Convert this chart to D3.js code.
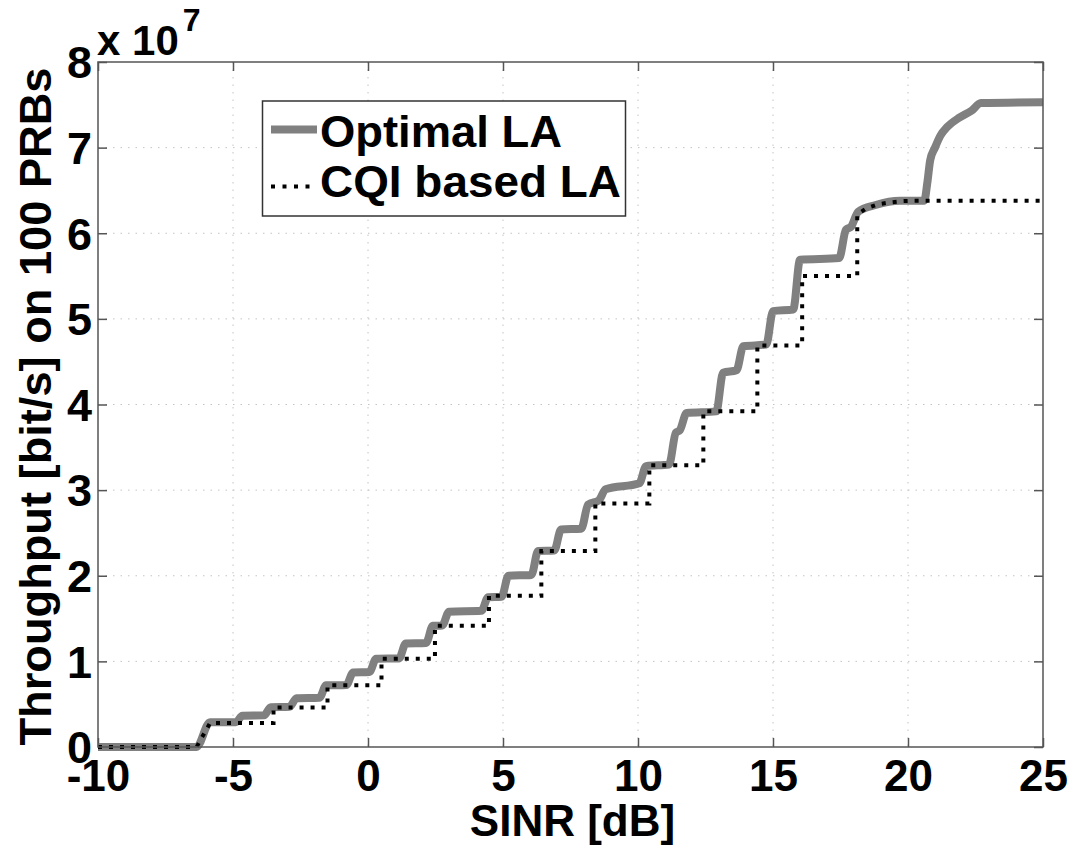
<!DOCTYPE html>
<html>
<head>
<meta charset="utf-8">
<script src="https://cdn.jsdelivr.net/npm/d3@7"></script>
<style>
  html, body { margin: 0; padding: 0; background: #fff; }
  svg { display: block; }
  text { font-family: "Liberation Sans", Arial, sans-serif; font-weight: bold; fill: #000; }
</style>
</head>
<body>
<svg id="chart" width="1072" height="846"></svg>
<script>
// ---- data (SINR in dB, throughput in units of 1e7 bit/s) ----
const xTicks = [-10, -5, 0, 5, 10, 15, 20, 25];
const yTicks = [0, 1, 2, 3, 4, 5, 6, 7, 8];
const seriesNames = ["Optimal LA", "CQI based LA"];

const optimalSINR = [-10, -6.35, -5.85, -4.9, -4.65, -3.85, -3.6, -2.9, -2.65, -1.8, -1.55, -0.8, -0.55, 0.05, 0.3,
  1.15, 1.4, 2.15, 2.4, 2.75, 3.0, 4.2, 4.45, 4.95, 5.2, 6.05, 6.3, 6.9, 7.15, 7.9, 8.15, 8.55, 8.8, 10.05, 10.3,
  11.15, 11.4, 11.55, 11.8, 12.9, 13.15, 13.65, 13.9, 14.75, 15.0, 15.75, 16.0, 17.45, 17.7, 17.9, 18.15, 18.8, 19.7,
  20.6, 20.72, 20.82, 21.0, 21.2, 21.45, 21.9, 22.35, 22.7, 25];
const optimalTput = [0, 0, 0.29, 0.29, 0.365, 0.37, 0.465, 0.47, 0.57, 0.575, 0.72, 0.725, 0.87, 0.875, 1.03,
  1.035, 1.21, 1.215, 1.415, 1.42, 1.58, 1.59, 1.75, 1.755, 2.0, 2.01, 2.29, 2.295, 2.54, 2.55, 2.83, 2.88, 3.01, 3.08, 3.28,
  3.3, 3.67, 3.7, 3.9, 3.92, 4.37, 4.4, 4.68, 4.7, 5.09, 5.11, 5.69, 5.71, 6.04, 6.08, 6.25, 6.33, 6.38,
  6.38, 6.6, 6.85, 7.0, 7.14, 7.24, 7.35, 7.43, 7.52, 7.53];

const cqiSINR = [-10, -6.35, -5.85, -3.5, -3.5, -1.5, -1.5, 0.5, 0.5, 2.48, 2.48, 4.48, 4.48, 6.42, 6.42, 8.42, 8.42,
  10.42, 10.42, 12.42, 12.42, 14.42, 14.42, 16.08, 16.08, 18.12, 18.12, 18.45, 18.9, 19.35, 19.8, 20.2, 25];
const cqiTput = [0, 0, 0.28, 0.28, 0.46, 0.46, 0.72, 0.72, 1.03, 1.03, 1.415, 1.415, 1.765, 1.765, 2.29, 2.29, 2.845,
  2.845, 3.29, 3.29, 3.92, 3.92, 4.69, 4.69, 5.50, 5.50, 6.22, 6.29, 6.34, 6.36, 6.375, 6.38, 6.38];

// ---- layout ----
const svg = d3.select("#chart");
const L = 98, R = 1043, T = 62, B = 747;
const x = d3.scaleLinear().domain([-10, 25]).range([L, R]);
const y = d3.scaleLinear().domain([0, 8]).range([B, T]);
const fmt = d => String(d); // plain hyphen minus as in the original

// grid
const grid = svg.append("g").attr("stroke", "#c4c4c4").attr("stroke-width", 1).attr("stroke-dasharray", "1.5,6");
grid.selectAll("line.v").data(xTicks.filter(d => d > -10 && d < 25)).enter().append("line")
  .attr("x1", d => x(d)).attr("x2", d => x(d)).attr("y1", T).attr("y2", B);
grid.selectAll("line.h").data(yTicks.filter(d => d > 0 && d < 8)).enter().append("line")
  .attr("y1", d => y(d)).attr("y2", d => y(d)).attr("x1", L).attr("x2", R);

// axes with inward ticks on all four sides
const tickLen = 9;
const axB = svg.append("g").attr("transform", `translate(0,${B})`)
  .call(d3.axisBottom(x).tickValues(xTicks).tickSize(-tickLen).tickPadding(14).tickFormat(fmt));
const axT = svg.append("g").attr("transform", `translate(0,${T})`)
  .call(d3.axisTop(x).tickValues(xTicks).tickSize(-tickLen).tickFormat(""));
const axL = svg.append("g").attr("transform", `translate(${L},0)`)
  .call(d3.axisLeft(y).tickValues(yTicks).tickSize(-tickLen).tickPadding(6).tickFormat(fmt));
const axR = svg.append("g").attr("transform", `translate(${R},0)`)
  .call(d3.axisRight(y).tickValues(yTicks).tickSize(-tickLen).tickFormat(""));
[axB, axT, axL, axR].forEach(a => {
  a.select(".domain").remove();
  a.selectAll(".tick line").attr("stroke", "#555").attr("stroke-width", 1.5);
});
axB.selectAll(".tick text").attr("font-size", 44).attr("font-weight", "bold").attr("fill", "#000")
  .attr("font-family", "Liberation Sans, Arial, sans-serif").attr("dy", "0.69em");
axL.selectAll(".tick text").attr("font-size", 45).attr("font-weight", "bold").attr("fill", "#000")
  .attr("font-family", "Liberation Sans, Arial, sans-serif").attr("dy", "0.35em");

// series
const optData = optimalSINR.map((s, i) => [s, optimalTput[i]]);
const cqiData = cqiSINR.map((s, i) => [s, cqiTput[i]]);
svg.append("path").datum(optData)
  .attr("d", d3.line().x(d => x(d[0])).y(d => y(d[1])).curve(d3.curveMonotoneX))
  .attr("fill", "none").attr("stroke", "#808080").attr("stroke-width", 8).attr("stroke-linejoin", "round");
svg.append("path").datum(cqiData)
  .attr("d", d3.line().x(d => x(d[0])).y(d => y(d[1])))
  .attr("fill", "none").attr("stroke", "#000").attr("stroke-width", 4).attr("stroke-dasharray", "4,7");

// frame
svg.append("rect").attr("x", L).attr("y", T).attr("width", R - L).attr("height", B - T)
  .attr("fill", "none").attr("stroke", "#555").attr("stroke-width", 1.5);

// exponent label
const expo = svg.append("text").attr("x", 97).attr("y", 55).attr("font-size", 42);
expo.append("tspan").text("x 10");
expo.append("tspan").attr("font-size", 32).attr("dx", 4).attr("dy", -24).text("7");

// axis titles
svg.append("text").attr("x", (L + R) / 2 + 2).attr("y", 836).attr("text-anchor", "middle").attr("font-size", 44)
  .text("SINR [dB]");
svg.append("text").attr("transform", `translate(51,${(T + B) / 2 + 2}) rotate(-90)`).attr("text-anchor", "middle")
  .attr("font-size", 45).attr("textLength", 678).attr("lengthAdjust", "spacingAndGlyphs")
  .text("Throughput [bit/s] on 100 PRBs");

// legend
const lg = svg.append("g");
lg.append("rect").attr("x", 262.5).attr("y", 101).attr("width", 363).attr("height", 115)
  .attr("fill", "#fff").attr("stroke", "#333").attr("stroke-width", 1.5);
lg.append("line").attr("x1", 271).attr("x2", 317).attr("y1", 129.5).attr("y2", 129.5)
  .attr("stroke", "#808080").attr("stroke-width", 8);
lg.append("line").attr("x1", 271).attr("x2", 317).attr("y1", 186.5).attr("y2", 186.5)
  .attr("stroke", "#000").attr("stroke-width", 4).attr("stroke-dasharray", "4,7.5");
lg.append("text").attr("x", 320).attr("y", 147).attr("font-size", 44).attr("textLength", 242)
  .attr("lengthAdjust", "spacingAndGlyphs").text(seriesNames[0]);
lg.append("text").attr("x", 320).attr("y", 196.5).attr("font-size", 44).attr("textLength", 301)
  .attr("lengthAdjust", "spacingAndGlyphs").text(seriesNames[1]);
</script>
</body>
</html>
